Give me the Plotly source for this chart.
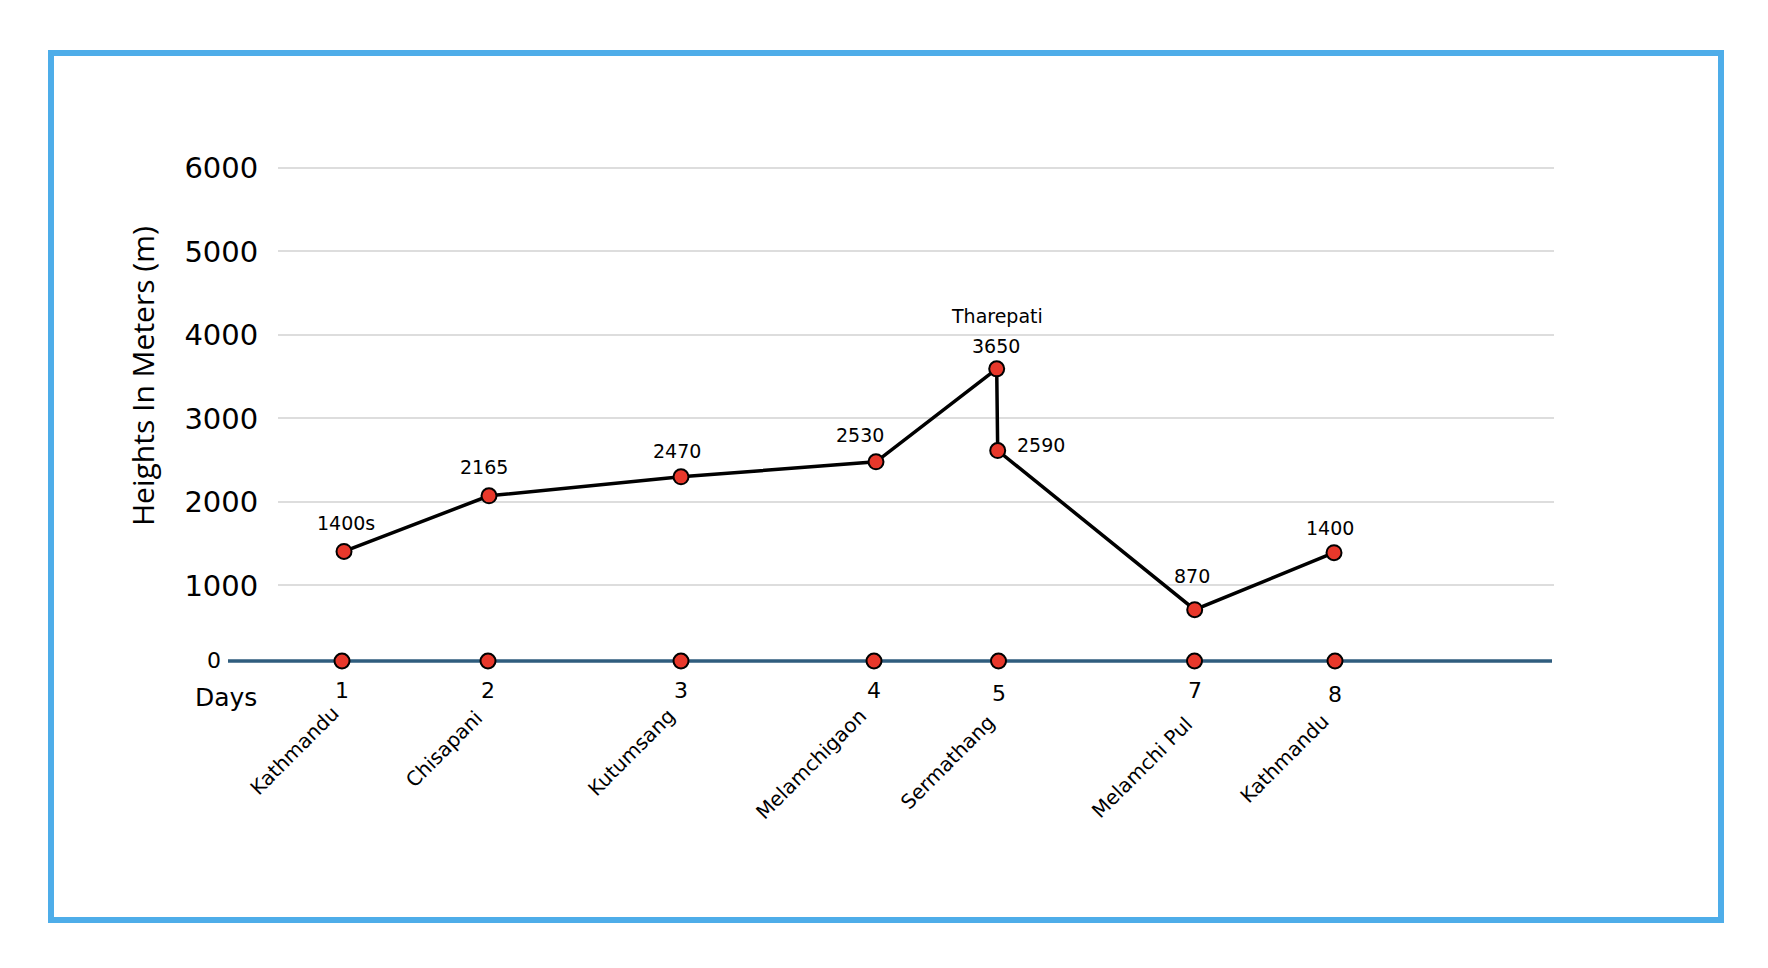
import plotly.graph_objects as go

# ---------------- data ----------------
stop_names = ["Kathmandu", "Chisapani", "Kutumsang", "Melamchigaon",
              "Sermathang", "Melamchi Pul", "Kathmandu"]
day_labels = ["1", "2", "3", "4", "5", "7", "8"]
day_pos = [6.4, 21.0, 40.3, 59.6, 72.05, 91.65, 105.7]          # position along the days axis

route_pos = [6.6, 21.1, 40.3, 59.8, 71.87, 71.97, 91.67, 105.6]
route_height = [1407, 2074, 2301, 2481, 3594, 2616, 710, 1392]   # plotted heights (m)
route_text = ["1400s", "2165", "2470", "2530", "3650", "2590", "870", "1400"]
peak_name = "Tharepati"

y_ticks = [1000, 2000, 3000, 4000, 5000, 6000]

# ---------------- layout helpers ----------------
W, H = 1768, 968
PL, PR, PT, PB = 278, 1554, 165, 661
Y_LOW = 95
UNIT_PX = (PB - 168) / (6000 - Y_LOW)
Y_HIGH = 6000 + (168 - PT) / UNIT_PX


def px_x(px):
    return (px - PL) / (PR - PL)


def px_y(py):
    return (PB - py) / (PB - PT)


label_shift = [(1.7, 28.5), (-4.7, 29), (-3.7, 26), (-15.6, 26.7),
               (-0.7, 23), (43, 5.7), (-3, 34), (-4.5, 25)]
day_label_y = [690, 690, 690, 690, 693, 690, 694]
name_label_y = [699, 703, 701, 701, 707, 710, 707]
name_label_dx = [4, 2, 2, 0, 4, 5, 1]

RED = "#E8382B"
BLUE_FRAME = "#4EADE9"
AXIS_BLUE = "#2F5D7E"
FONT = "DejaVu Sans"

fig = go.Figure()

fig.add_trace(go.Scatter(
    x=route_pos, y=route_height, mode="lines+markers",
    line=dict(color="black", width=3.5),
    marker=dict(size=15, color=RED, line=dict(color="black", width=2)),
    cliponaxis=False, showlegend=False, hoverinfo="skip",
))

fig.add_trace(go.Scatter(
    x=day_pos, y=[0] * len(day_pos), mode="markers", yaxis="y2",
    marker=dict(size=15, color=RED, line=dict(color="black", width=2)),
    cliponaxis=False, showlegend=False, hoverinfo="skip",
))

annotations = []
for xv, yv, t, (dx, dy) in zip(route_pos, route_height, route_text, label_shift):
    annotations.append(dict(x=xv, y=yv, xref="x", yref="y", text=t, showarrow=False,
                            xshift=dx, yshift=dy, xanchor="center", yanchor="middle",
                            font=dict(family=FONT, size=19, color="black")))
peak_i = route_height.index(max(route_height))
annotations.append(dict(x=route_pos[peak_i], y=route_height[peak_i], xref="x", yref="y",
                        text=peak_name, showarrow=False, xshift=0, yshift=53,
                        xanchor="center", yanchor="middle",
                        font=dict(family=FONT, size=19, color="black")))

for xv, d, py in zip(day_pos, day_labels, day_label_y):
    annotations.append(dict(x=xv, y=px_y(py), xref="x", yref="paper", text=d,
                            showarrow=False, xanchor="center", yanchor="middle",
                            font=dict(family=FONT, size=22, color="black")))

for xv, nm, py, dx in zip(day_pos, stop_names, name_label_y, name_label_dx):
    annotations.append(dict(x=xv, y=px_y(py), xref="x", yref="paper", text=nm,
                            showarrow=False, textangle=-45, xshift=dx,
                            xanchor="right", yanchor="top",
                            font=dict(family=FONT, size=20, color="black")))

annotations.append(dict(x=px_x(214), y=px_y(660), xref="paper", yref="paper", text="0",
                        showarrow=False, xanchor="center", yanchor="middle",
                        font=dict(family=FONT, size=22, color="black")))
annotations.append(dict(x=px_x(259), y=px_y(697), xref="paper", yref="paper", text="Days",
                        showarrow=False, xanchor="right", yanchor="middle",
                        font=dict(family=FONT, size=25, color="black")))
annotations.append(dict(x=px_x(142), y=px_y(376), xref="paper", yref="paper",
                        text="Heights In Meters (m)", textangle=-90, showarrow=False,
                        xanchor="center", yanchor="middle",
                        font=dict(family="Open Sans", size=30, color="black")))

shapes = [
    dict(type="line", xref="paper", yref="paper", x0=px_x(228), x1=px_x(1552), y0=0, y1=0,
         line=dict(color=AXIS_BLUE, width=3.5), layer="below"),
    dict(type="rect", xref="paper", yref="paper", x0=px_x(51), x1=px_x(1721),
         y0=px_y(920), y1=px_y(53), line=dict(color=BLUE_FRAME, width=6),
         fillcolor="rgba(0,0,0,0)", layer="above"),
]

fig.update_layout(
    width=W, height=H,
    margin=dict(l=PL, r=W - PR, t=PT, b=H - PB, pad=0),
    paper_bgcolor="white", plot_bgcolor="white",
    xaxis=dict(range=[0, 127.6], showgrid=False, zeroline=False, showticklabels=False,
               showline=False, ticks=""),
    yaxis=dict(range=[Y_LOW, Y_HIGH], tickvals=y_ticks, showgrid=True, gridcolor="#DDDDDD",
               gridwidth=1.5, zeroline=False, showline=False, ticks="outside", ticklen=13,
               tickcolor="rgba(0,0,0,0)", tickfont=dict(family=FONT, size=29, color="black")),
    yaxis2=dict(range=[0, 1], overlaying="y", visible=False, anchor="x"),
    annotations=annotations,
    shapes=shapes,
    showlegend=False,
)

fig.write_html("out.html", config={"displayModeBar": False},
               post_script="document.body.style.margin='0';")
